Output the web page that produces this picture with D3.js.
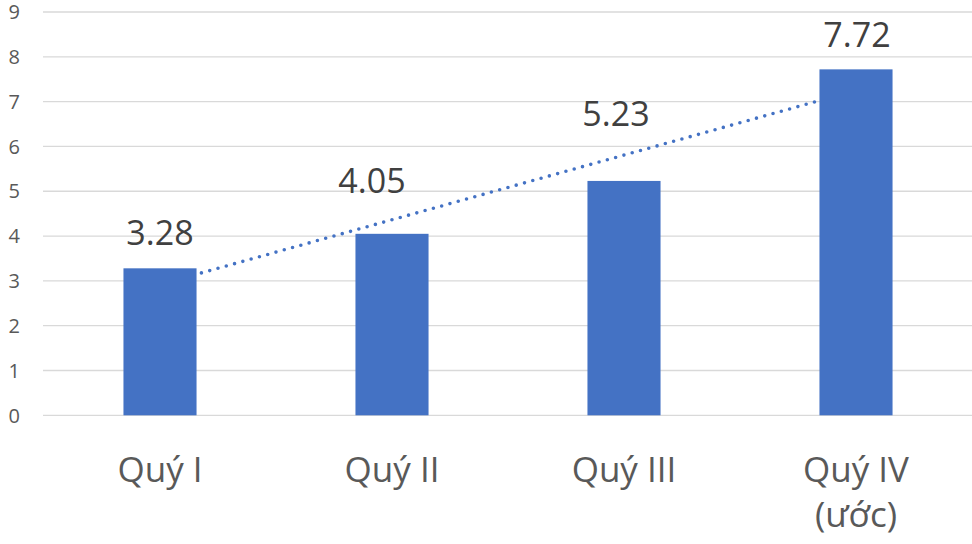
<!DOCTYPE html>
<html>
<head>
<meta charset="utf-8">
<script src="https://cdn.jsdelivr.net/npm/d3@7"></script>
<style>
  html, body { margin: 0; padding: 0; background: #fff; }
  svg { display: block; }
</style>
</head>
<body>
<svg id="chart" width="972" height="544"></svg>
<script>
// ---- data ----
const categories = [["Quý I"], ["Quý II"], ["Quý III"], ["Quý IV", "(ước)"]];
const values = [3.28, 4.05, 5.23, 7.72];
const yTicks = [0, 1, 2, 3, 4, 5, 6, 7, 8, 9];
// linear trendline values at first and last category
const trendValues = [2.92, 7.25];

// ---- layout ----
const W = 972, H = 544;
const plot = { left: 44, right: 972, top: 12, bottom: 415.3 };
const svg = d3.select("#chart");

const keys = categories.map((c, i) => String(i));
const x = d3.scaleBand().domain(keys).range([plot.left, plot.right])
  .paddingInner(0.685).paddingOuter(0.3425);
const y = d3.scaleLinear().domain([0, 9]).range([plot.bottom, plot.top]);

// gridlines
svg.append("g").selectAll("line").data(yTicks).join("line")
  .attr("x1", 43).attr("x2", 972)
  .attr("y1", d => y(d)).attr("y2", d => y(d))
  .attr("stroke", "#D9D9D9").attr("stroke-width", 1.3);

// y axis labels
svg.append("g").selectAll("text").data(yTicks).join("text")
  .attr("x", 20).attr("y", d => y(d))
  .attr("dy", "0.36em")
  .attr("text-anchor", "end")
  .attr("font-family", "'Open Sans', sans-serif")
  .attr("font-size", 20)
  .attr("fill", "#595959")
  .text(d => d);

// trendline (drawn beneath bars)
const cx = i => x(keys[i]) + x.bandwidth() / 2;
svg.append("line")
  .attr("x1", cx(0)).attr("y1", y(trendValues[0]))
  .attr("x2", cx(3)).attr("y2", y(trendValues[1]))
  .attr("stroke", "#4472C4").attr("stroke-width", 3.6)
  .attr("stroke-linecap", "round")
  .attr("stroke-dasharray", "0 8.6");

// bars
svg.append("g").selectAll("rect").data(values).join("rect")
  .attr("x", (d, i) => x(keys[i]))
  .attr("y", d => y(d))
  .attr("width", x.bandwidth())
  .attr("height", d => y(0) - y(d))
  .attr("fill", "#4472C4");

// value labels (labels 2 and 3 were nudged in the original)
const labelDx = [0, -20, -8, 1];
const labelDy = [-23, -41, -55, -22];
svg.append("g").selectAll("text").data(values).join("text")
  .attr("x", (d, i) => cx(i) + labelDx[i])
  .attr("y", (d, i) => y(d) + labelDy[i])
  .attr("text-anchor", "middle")
  .attr("font-family", "'Open Sans', sans-serif")
  .attr("font-size", 34)
  .attr("fill", "#404040")
  .text(d => d.toFixed(2));

// category labels
const cat = svg.append("g").selectAll("text").data(categories).join("text")
  .attr("x", (d, i) => cx(i))
  .attr("y", 482)
  .attr("text-anchor", "middle")
  .attr("font-family", "'Open Sans', sans-serif")
  .attr("font-size", 35)
  .attr("fill", "#595959");
cat.selectAll("tspan").data(d => d).join("tspan")
  .attr("x", function() { return d3.select(this.parentNode).attr("x"); })
  .attr("dy", (d, j) => j === 0 ? 0 : 45)
  .text(d => d);
</script>
</body>
</html>
